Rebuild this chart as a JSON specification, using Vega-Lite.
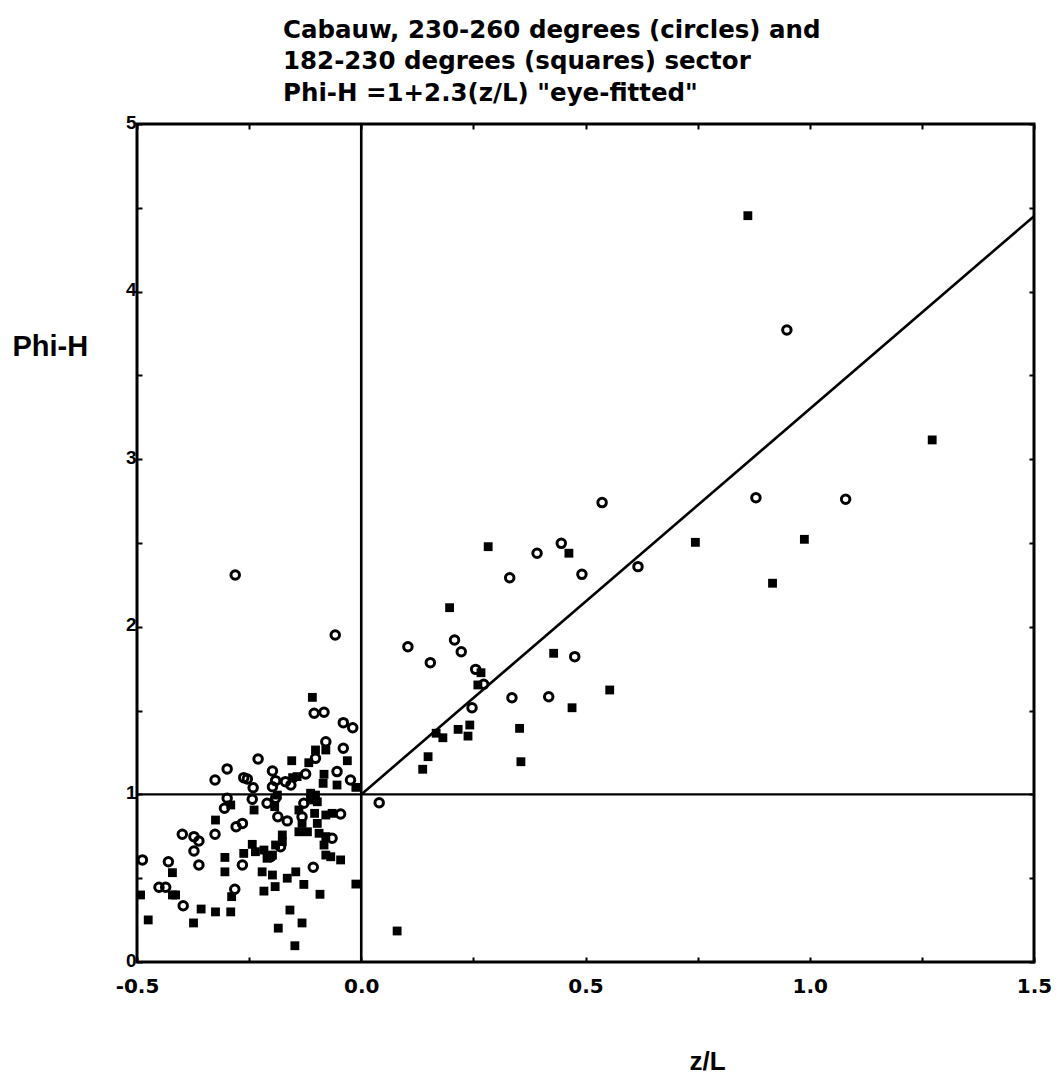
{
  "$schema": "https://vega.github.io/schema/vega-lite/v6.json",
  "width": 897,
  "height": 838,
  "autosize": {"type": "none"},
  "padding": {"left": 137, "top": 124, "right": 26, "bottom": 112},
  "background": "white",
  "config": {
    "view": {"stroke": "black", "strokeWidth": 3},
    "axis": {"domain": false, "grid": false, "tickColor": "black", "tickWidth": 2, "labelColor": "black", "titleColor": "black", "labelFlush": false, "labelOverlap": false}
  },
  "title": {
    "text": ["Cabauw, 230-260 degrees (circles) and", "182-230 degrees (squares) sector", "Phi-H =1+2.3(z/L) \"eye-fitted\""],
    "anchor": "start",
    "frame": "group",
    "font": "DejaVu Sans",
    "fontWeight": "bold",
    "fontSize": 24.5,
    "lineHeight": 31.5,
    "color": "black",
    "baseline": "alphabetic",
    "dx": 146,
    "dy": 32,
    "offset": 20
  },
  "datasets": {
    "pts": [
      {"zL": -0.105, "phiH": 1.484, "sector": "230-260"},
      {"zL": -0.083, "phiH": 1.49, "sector": "230-260"},
      {"zL": -0.04, "phiH": 1.428, "sector": "230-260"},
      {"zL": -0.019, "phiH": 1.398, "sector": "230-260"},
      {"zL": -0.079, "phiH": 1.314, "sector": "230-260"},
      {"zL": -0.04, "phiH": 1.275, "sector": "230-260"},
      {"zL": -0.102, "phiH": 1.215, "sector": "230-260"},
      {"zL": -0.23, "phiH": 1.211, "sector": "230-260"},
      {"zL": -0.299, "phiH": 1.152, "sector": "230-260"},
      {"zL": -0.326, "phiH": 1.086, "sector": "230-260"},
      {"zL": -0.262, "phiH": 1.1, "sector": "230-260"},
      {"zL": -0.254, "phiH": 1.092, "sector": "230-260"},
      {"zL": -0.198, "phiH": 1.14, "sector": "230-260"},
      {"zL": -0.191, "phiH": 1.082, "sector": "230-260"},
      {"zL": -0.241, "phiH": 1.04, "sector": "230-260"},
      {"zL": -0.169, "phiH": 1.076, "sector": "230-260"},
      {"zL": -0.157, "phiH": 1.056, "sector": "230-260"},
      {"zL": -0.124, "phiH": 1.122, "sector": "230-260"},
      {"zL": -0.054, "phiH": 1.136, "sector": "230-260"},
      {"zL": -0.024, "phiH": 1.086, "sector": "230-260"},
      {"zL": -0.198, "phiH": 1.046, "sector": "230-260"},
      {"zL": -0.299, "phiH": 0.977, "sector": "230-260"},
      {"zL": -0.305, "phiH": 0.917, "sector": "230-260"},
      {"zL": -0.243, "phiH": 0.971, "sector": "230-260"},
      {"zL": -0.21, "phiH": 0.947, "sector": "230-260"},
      {"zL": -0.191, "phiH": 0.977, "sector": "230-260"},
      {"zL": -0.186, "phiH": 0.867, "sector": "230-260"},
      {"zL": -0.165, "phiH": 0.842, "sector": "230-260"},
      {"zL": -0.132, "phiH": 0.867, "sector": "230-260"},
      {"zL": -0.128, "phiH": 0.947, "sector": "230-260"},
      {"zL": -0.046, "phiH": 0.883, "sector": "230-260"},
      {"zL": -0.065, "phiH": 0.738, "sector": "230-260"},
      {"zL": -0.279, "phiH": 0.807, "sector": "230-260"},
      {"zL": -0.265, "phiH": 0.827, "sector": "230-260"},
      {"zL": -0.326, "phiH": 0.762, "sector": "230-260"},
      {"zL": -0.399, "phiH": 0.762, "sector": "230-260"},
      {"zL": -0.373, "phiH": 0.748, "sector": "230-260"},
      {"zL": -0.362, "phiH": 0.722, "sector": "230-260"},
      {"zL": -0.373, "phiH": 0.662, "sector": "230-260"},
      {"zL": -0.362, "phiH": 0.579, "sector": "230-260"},
      {"zL": -0.43, "phiH": 0.598, "sector": "230-260"},
      {"zL": -0.488, "phiH": 0.609, "sector": "230-260"},
      {"zL": -0.451, "phiH": 0.446, "sector": "230-260"},
      {"zL": -0.436, "phiH": 0.446, "sector": "230-260"},
      {"zL": -0.397, "phiH": 0.336, "sector": "230-260"},
      {"zL": -0.282, "phiH": 0.434, "sector": "230-260"},
      {"zL": -0.265, "phiH": 0.579, "sector": "230-260"},
      {"zL": -0.202, "phiH": 0.628, "sector": "230-260"},
      {"zL": -0.18, "phiH": 0.688, "sector": "230-260"},
      {"zL": -0.107, "phiH": 0.565, "sector": "230-260"},
      {"zL": -0.281, "phiH": 2.309, "sector": "230-260"},
      {"zL": -0.058, "phiH": 1.951, "sector": "230-260"},
      {"zL": 0.537, "phiH": 2.741, "sector": "230-260"},
      {"zL": 0.392, "phiH": 2.439, "sector": "230-260"},
      {"zL": 0.446, "phiH": 2.498, "sector": "230-260"},
      {"zL": 0.331, "phiH": 2.293, "sector": "230-260"},
      {"zL": 0.492, "phiH": 2.313, "sector": "230-260"},
      {"zL": 0.617, "phiH": 2.359, "sector": "230-260"},
      {"zL": 0.104, "phiH": 1.881, "sector": "230-260"},
      {"zL": 0.208, "phiH": 1.921, "sector": "230-260"},
      {"zL": 0.223, "phiH": 1.851, "sector": "230-260"},
      {"zL": 0.154, "phiH": 1.786, "sector": "230-260"},
      {"zL": 0.255, "phiH": 1.746, "sector": "230-260"},
      {"zL": 0.273, "phiH": 1.657, "sector": "230-260"},
      {"zL": 0.247, "phiH": 1.517, "sector": "230-260"},
      {"zL": 0.476, "phiH": 1.822, "sector": "230-260"},
      {"zL": 0.336, "phiH": 1.577, "sector": "230-260"},
      {"zL": 0.418, "phiH": 1.583, "sector": "230-260"},
      {"zL": 0.04, "phiH": 0.95, "sector": "230-260"},
      {"zL": 0.949, "phiH": 3.771, "sector": "230-260"},
      {"zL": 0.88, "phiH": 2.77, "sector": "230-260"},
      {"zL": 1.08, "phiH": 2.761, "sector": "230-260"},
      {"zL": -0.109, "phiH": 1.579, "sector": "182-230"},
      {"zL": -0.155, "phiH": 1.201, "sector": "182-230"},
      {"zL": -0.031, "phiH": 1.201, "sector": "182-230"},
      {"zL": -0.102, "phiH": 1.265, "sector": "182-230"},
      {"zL": -0.079, "phiH": 1.265, "sector": "182-230"},
      {"zL": -0.117, "phiH": 1.189, "sector": "182-230"},
      {"zL": -0.083, "phiH": 1.12, "sector": "182-230"},
      {"zL": -0.153, "phiH": 1.1, "sector": "182-230"},
      {"zL": -0.143, "phiH": 1.106, "sector": "182-230"},
      {"zL": -0.085, "phiH": 1.066, "sector": "182-230"},
      {"zL": -0.054, "phiH": 1.056, "sector": "182-230"},
      {"zL": -0.012, "phiH": 1.042, "sector": "182-230"},
      {"zL": -0.113, "phiH": 1.007, "sector": "182-230"},
      {"zL": -0.102, "phiH": 0.996, "sector": "182-230"},
      {"zL": -0.113, "phiH": 0.967, "sector": "182-230"},
      {"zL": -0.098, "phiH": 0.956, "sector": "182-230"},
      {"zL": -0.187, "phiH": 0.996, "sector": "182-230"},
      {"zL": -0.193, "phiH": 0.927, "sector": "182-230"},
      {"zL": -0.239, "phiH": 0.907, "sector": "182-230"},
      {"zL": -0.291, "phiH": 0.937, "sector": "182-230"},
      {"zL": -0.325, "phiH": 0.847, "sector": "182-230"},
      {"zL": -0.139, "phiH": 0.907, "sector": "182-230"},
      {"zL": -0.104, "phiH": 0.887, "sector": "182-230"},
      {"zL": -0.079, "phiH": 0.877, "sector": "182-230"},
      {"zL": -0.065, "phiH": 0.887, "sector": "182-230"},
      {"zL": -0.132, "phiH": 0.827, "sector": "182-230"},
      {"zL": -0.098, "phiH": 0.827, "sector": "182-230"},
      {"zL": -0.139, "phiH": 0.777, "sector": "182-230"},
      {"zL": -0.12, "phiH": 0.777, "sector": "182-230"},
      {"zL": -0.094, "phiH": 0.768, "sector": "182-230"},
      {"zL": -0.079, "phiH": 0.748, "sector": "182-230"},
      {"zL": -0.083, "phiH": 0.698, "sector": "182-230"},
      {"zL": -0.176, "phiH": 0.758, "sector": "182-230"},
      {"zL": -0.176, "phiH": 0.718, "sector": "182-230"},
      {"zL": -0.191, "phiH": 0.698, "sector": "182-230"},
      {"zL": -0.243, "phiH": 0.702, "sector": "182-230"},
      {"zL": -0.262, "phiH": 0.648, "sector": "182-230"},
      {"zL": -0.236, "phiH": 0.658, "sector": "182-230"},
      {"zL": -0.217, "phiH": 0.668, "sector": "182-230"},
      {"zL": -0.21, "phiH": 0.619, "sector": "182-230"},
      {"zL": -0.198, "phiH": 0.638, "sector": "182-230"},
      {"zL": -0.079, "phiH": 0.638, "sector": "182-230"},
      {"zL": -0.068, "phiH": 0.628, "sector": "182-230"},
      {"zL": -0.046, "phiH": 0.609, "sector": "182-230"},
      {"zL": -0.304, "phiH": 0.624, "sector": "182-230"},
      {"zL": -0.304, "phiH": 0.538, "sector": "182-230"},
      {"zL": -0.421, "phiH": 0.533, "sector": "182-230"},
      {"zL": -0.221, "phiH": 0.538, "sector": "182-230"},
      {"zL": -0.198, "phiH": 0.519, "sector": "182-230"},
      {"zL": -0.165, "phiH": 0.5, "sector": "182-230"},
      {"zL": -0.146, "phiH": 0.538, "sector": "182-230"},
      {"zL": -0.128, "phiH": 0.463, "sector": "182-230"},
      {"zL": -0.192, "phiH": 0.45, "sector": "182-230"},
      {"zL": -0.217, "phiH": 0.423, "sector": "182-230"},
      {"zL": -0.092, "phiH": 0.404, "sector": "182-230"},
      {"zL": -0.012, "phiH": 0.465, "sector": "182-230"},
      {"zL": -0.421, "phiH": 0.4, "sector": "182-230"},
      {"zL": -0.414, "phiH": 0.4, "sector": "182-230"},
      {"zL": -0.492, "phiH": 0.4, "sector": "182-230"},
      {"zL": -0.289, "phiH": 0.39, "sector": "182-230"},
      {"zL": -0.357, "phiH": 0.316, "sector": "182-230"},
      {"zL": -0.325, "phiH": 0.299, "sector": "182-230"},
      {"zL": -0.291, "phiH": 0.299, "sector": "182-230"},
      {"zL": -0.475, "phiH": 0.251, "sector": "182-230"},
      {"zL": -0.374, "phiH": 0.233, "sector": "182-230"},
      {"zL": -0.159, "phiH": 0.31, "sector": "182-230"},
      {"zL": -0.132, "phiH": 0.233, "sector": "182-230"},
      {"zL": -0.185, "phiH": 0.202, "sector": "182-230"},
      {"zL": -0.148, "phiH": 0.097, "sector": "182-230"},
      {"zL": 0.283, "phiH": 2.478, "sector": "182-230"},
      {"zL": 0.463, "phiH": 2.439, "sector": "182-230"},
      {"zL": 0.197, "phiH": 2.114, "sector": "182-230"},
      {"zL": 0.267, "phiH": 1.726, "sector": "182-230"},
      {"zL": 0.26, "phiH": 1.653, "sector": "182-230"},
      {"zL": 0.429, "phiH": 1.842, "sector": "182-230"},
      {"zL": 0.554, "phiH": 1.623, "sector": "182-230"},
      {"zL": 0.47, "phiH": 1.517, "sector": "182-230"},
      {"zL": 0.167, "phiH": 1.365, "sector": "182-230"},
      {"zL": 0.182, "phiH": 1.338, "sector": "182-230"},
      {"zL": 0.216, "phiH": 1.388, "sector": "182-230"},
      {"zL": 0.242, "phiH": 1.414, "sector": "182-230"},
      {"zL": 0.238, "phiH": 1.348, "sector": "182-230"},
      {"zL": 0.353, "phiH": 1.394, "sector": "182-230"},
      {"zL": 0.149, "phiH": 1.225, "sector": "182-230"},
      {"zL": 0.137, "phiH": 1.15, "sector": "182-230"},
      {"zL": 0.356, "phiH": 1.195, "sector": "182-230"},
      {"zL": 0.08, "phiH": 0.185, "sector": "182-230"},
      {"zL": 0.862, "phiH": 4.453, "sector": "182-230"},
      {"zL": 1.273, "phiH": 3.115, "sector": "182-230"},
      {"zL": 0.745, "phiH": 2.504, "sector": "182-230"},
      {"zL": 0.988, "phiH": 2.522, "sector": "182-230"},
      {"zL": 0.917, "phiH": 2.26, "sector": "182-230"}
    ],
    "fit": [
      {"zL": 0, "phiH": 1},
      {"zL": 1.5, "phiH": 4.45}
    ],
    "hline": [{"phiH": 1}],
    "vline": [{"zL": 0}]
  },
  "layer": [
    {
      "data": {"name": "pts"},
      "mark": {"type": "point", "filled": true, "opacity": 1, "stroke": "black"},
      "encoding": {
        "x": {
          "field": "zL", "type": "quantitative",
          "scale": {"domain": [-0.5, 1.5], "nice": false, "zero": false},
          "axis": {
            "orient": "bottom",
            "values": [-0.5, -0.25, 0, 0.25, 0.5, 0.75, 1, 1.25, 1.5],
            "labelExpr": "(datum.value*2)%1==0 ? replace(format(datum.value,'.1f'), '\u2212', '-') : ''",
            "tickSize": -5,
            "labelPadding": 19,
            "labelBaseline": "top",
            "labelFont": "DejaVu Sans",
            "labelFontWeight": "bold",
            "labelFontSize": 20,
            "title": "z/L",
            "titleFont": "Liberation Sans",
            "titleFontWeight": "bold",
            "titleFontSize": 26,
            "titleX": 570,
            "titleY": 107,
            "titleAlign": "center",
            "titleAnchor": null,
            "titleBaseline": "alphabetic"
          }
        },
        "y": {
          "field": "phiH", "type": "quantitative",
          "scale": {"domain": [0, 5], "nice": false, "zero": false},
          "axis": {
            "orient": "left",
            "values": [0, 0.5, 1, 1.5, 2, 2.5, 3, 3.5, 4, 4.5, 5],
            "labelExpr": "datum.value%1==0 ? format(datum.value,'d') : ''",
            "tickSize": -5,
            "labelPadding": 6,
            "labelBaseline": "middle",
            "labelOffset": -2,
            "labelFont": "Liberation Sans",
            "labelFontWeight": "bold",
            "labelFontSize": 19,
            "title": "Phi-H",
            "titleAngle": 0,
            "titleFont": "Liberation Sans",
            "titleFontWeight": "bold",
            "titleFontSize": 29,
            "titleX": -125,
            "titleY": 231,
            "titleAlign": "left",
            "titleAnchor": null,
            "titleBaseline": "alphabetic"
          }
        },
        "shape": {"field": "sector", "type": "nominal", "scale": {"domain": ["230-260", "182-230"], "range": ["circle", "square"]}, "legend": null},
        "fill": {"field": "sector", "type": "nominal", "scale": {"domain": ["230-260", "182-230"], "range": ["transparent", "black"]}, "legend": null},
        "strokeWidth": {"field": "sector", "type": "nominal", "scale": {"domain": ["230-260", "182-230"], "range": [3, 0]}, "legend": null},
        "size": {"field": "sector", "type": "nominal", "scale": {"domain": ["230-260", "182-230"], "range": [72, 78]}, "legend": null}
      }
    },
    {
      "data": {"name": "fit"},
      "mark": {"type": "line", "color": "black", "strokeWidth": 2.6},
      "encoding": {
        "x": {
          "field": "zL", "type": "quantitative",
          "scale": {"domain": [-0.5, 1.5], "nice": false, "zero": false},
          "axis": {"orient": "top", "values": [-0.5, -0.25, 0, 0.25, 0.5, 0.75, 1, 1.25, 1.5], "labels": false, "tickSize": -5, "title": null}
        },
        "y": {
          "field": "phiH", "type": "quantitative",
          "scale": {"domain": [0, 5], "nice": false, "zero": false},
          "axis": {"orient": "right", "values": [0, 0.5, 1, 1.5, 2, 2.5, 3, 3.5, 4, 4.5, 5], "labels": false, "tickSize": -5, "title": null}
        }
      }
    },
    {
      "data": {"name": "hline"},
      "mark": {"type": "rule", "color": "black", "strokeWidth": 2.2},
      "encoding": {
        "y": {"field": "phiH", "type": "quantitative", "scale": {"domain": [0, 5], "nice": false, "zero": false}, "axis": null}
      }
    },
    {
      "data": {"name": "vline"},
      "mark": {"type": "rule", "color": "black", "strokeWidth": 2.6},
      "encoding": {
        "x": {"field": "zL", "type": "quantitative", "scale": {"domain": [-0.5, 1.5], "nice": false, "zero": false}, "axis": null}
      }
    }
  ],
  "resolve": {"scale": {"x": "independent", "y": "independent"}}
}
